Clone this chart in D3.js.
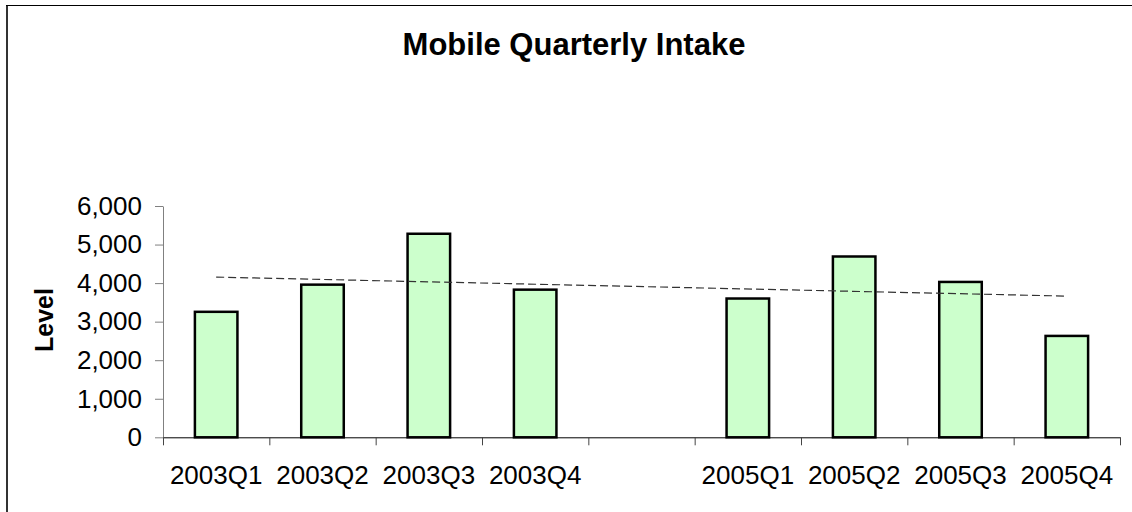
<!DOCTYPE html>
<html>
<head>
<meta charset="utf-8">
<script src="https://cdn.jsdelivr.net/npm/d3@7"></script>
<style>
  html, body { margin: 0; padding: 0; background: #fff; }
  svg { display: block; }
  text { font-family: "Liberation Sans", Arial, sans-serif; fill: #000; }
</style>
</head>
<body>
<svg id="chart" width="1132" height="512"></svg>
<script>
// ---- data ----
const categories = ["2003Q1", "2003Q2", "2003Q3", "2003Q4", "", "2005Q1", "2005Q2", "2005Q3", "2005Q4"];
const levels     = [3255, 3960, 5280, 3830, null, 3600, 4690, 4030, 2630];
const yTicks     = [0, 1000, 2000, 3000, 4000, 5000, 6000];
const chartTitle = "Mobile Quarterly Intake";
const yTitle     = "Level";

const svg = d3.select("#chart");

// frame
svg.append("line").attr("x1", 7).attr("x2", 7).attr("y1", 5).attr("y2", 520)
  .attr("stroke", "#333").attr("stroke-width", 2);
svg.append("line").attr("x1", 6).attr("x2", 1140).attr("y1", 5.5).attr("y2", 5.5)
  .attr("stroke", "#000").attr("stroke-width", 1);

const plotL = 163, plotR = 1120, plotT = 206, plotB = 437.3;

const x = d3.scaleBand().domain(categories).range([plotL, plotR])
  .paddingInner(0.6).paddingOuter(0.3);
const xEdge = d3.scaleLinear().domain([0, categories.length]).range([plotL, plotR]);
const y = d3.scaleLinear().domain([0, 6000]).range([plotB, plotT]);

// title
svg.append("text").attr("x", 574).attr("y", 55).attr("text-anchor", "middle")
  .style("font-size", "31px").style("font-weight", "bold").text(chartTitle);

// y axis title
svg.append("text").attr("transform", "translate(53,320) rotate(-90)")
  .attr("text-anchor", "middle").style("font-size", "25px").style("font-weight", "bold")
  .text(yTitle);

// y axis
const yAxis = svg.append("g").attr("transform", `translate(${plotL},0)`)
  .call(d3.axisLeft(y).tickValues(yTicks).tickFormat(d3.format(",")).tickSize(8).tickPadding(13).tickSizeOuter(0));
yAxis.select(".domain").attr("stroke", "#808080").attr("stroke-width", 1);
yAxis.selectAll(".tick line").attr("stroke", "#808080");
yAxis.selectAll("text").style("font-size", "26px").style("font-family", "'Liberation Sans', Arial, sans-serif").attr("fill", "#000");

// bars
svg.append("g").selectAll("rect")
  .data(categories.map((c, i) => ({ c, v: levels[i] })).filter(d => d.v != null))
  .join("rect")
  .attr("x", d => x(d.c))
  .attr("y", d => y(d.v))
  .attr("width", x.bandwidth())
  .attr("height", d => y(0) - y(d.v))
  .attr("fill", "#CCFFCC")
  .attr("stroke", "#000")
  .attr("stroke-width", 2.5);

// x axis
const xAxis = svg.append("g").attr("transform", `translate(0,${plotB})`)
  .call(d3.axisBottom(xEdge).tickValues(d3.range(categories.length + 1)).tickFormat("").tickSize(8).tickSizeOuter(0));
xAxis.select(".domain").attr("stroke", "#000").attr("stroke-width", 1);
xAxis.selectAll(".tick line").attr("stroke", "#444");

svg.append("g").selectAll("text")
  .data(categories)
  .join("text")
  .attr("x", d => x(d) + x.bandwidth() / 2)
  .attr("y", 484)
  .attr("text-anchor", "middle")
  .style("font-size", "26px")
  .text(d => d);

// linear trendline (least squares over the plotted points, as in the source)
const pts = levels.map((v, i) => ({ i: i + 1, v, c: categories[i] })).filter(d => d.v != null);
const mx = d3.mean(pts, d => d.i), my = d3.mean(pts, d => d.v);
const slope = d3.sum(pts, d => (d.i - mx) * (d.v - my)) / d3.sum(pts, d => (d.i - mx) ** 2);
const icpt = my - slope * mx;
const first = pts[0], last = pts[pts.length - 1];
const cx = d => x(d.c) + x.bandwidth() / 2;
svg.append("line")
  .attr("x1", cx(first)).attr("y1", y(icpt + slope * first.i))
  .attr("x2", cx(last)).attr("y2", y(icpt + slope * last.i))
  .attr("stroke", "#333").attr("stroke-width", 1.2).attr("stroke-dasharray", "8,4");
</script>
</body>
</html>
